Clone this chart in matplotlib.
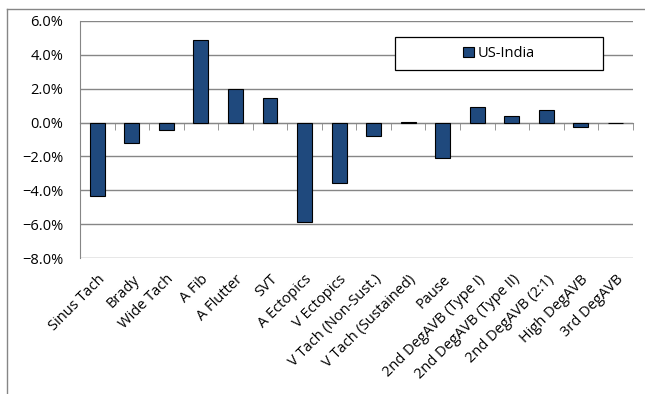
import numpy as np
import matplotlib.pyplot as plt
from matplotlib.patches import Rectangle
from matplotlib.ticker import PercentFormatter, FixedLocator

categories = ["Sinus Tach", "Brady", "Wide Tach", "A Fib", "A Flutter", "SVT",
              "A Ectopics", "V Ectopics", "V Tach (Non-Sust.)", "V Tach (Sustained)",
              "Pause", "2nd DegAVB (Type I)", "2nd DegAVB (Type II)",
              "2nd DegAVB (2:1)", "High DegAVB", "3rd DegAVB"]
us_india = [-4.35, -1.2, -0.45, 4.85, 1.95, 1.45, -5.9, -3.55, -0.78, 0.02,
            -2.08, 0.92, 0.4, 0.75, -0.25, -0.02]
yticks = [-8, -6, -4, -2, 0, 2, 4, 6]

plt.rcParams['font.family'] = ['Open Sans', 'DejaVu Sans']
grey = '#868686'
bar_color = '#1F497D'

fig = plt.figure(figsize=(6.45, 3.94), dpi=100)
ax = fig.add_axes([0.124, 0.345, 0.857, 0.602])

x = np.arange(len(categories))
ax.bar(x, us_india, width=0.43, color=bar_color, edgecolor='black',
       linewidth=0.8, zorder=3, label='US-India')

ax.set_xlim(-0.5, len(categories) - 0.5)
ax.set_ylim(-8, 6)
ax.set_yticks(yticks)
ax.yaxis.set_major_formatter(PercentFormatter(decimals=1))
ax.tick_params(axis='y', length=0, pad=12, labelsize=10.5)
ax.yaxis.grid(True, color=grey, linewidth=1)
ax.set_axisbelow(True)

for s in ['top', 'right']:
    ax.spines[s].set_visible(False)
ax.spines['left'].set_color(grey)
ax.spines['bottom'].set_position(('data', 0))
ax.spines['bottom'].set_color(grey)
ax.spines['bottom'].set_zorder(2)

# boundary tick marks on the zero line
ax.set_xticks([])
ax.xaxis.set_minor_locator(FixedLocator(np.arange(len(categories) + 1) - 0.5))
ax.tick_params(axis='x', which='minor', length=5, color=grey, direction='out')

# category labels below the plot area
sec = ax.secondary_xaxis(0.0)
sec.set_xticks(x)
sec.set_xticklabels(categories, rotation=45, ha='right', rotation_mode='anchor',
                    fontsize=10.5)
sec.tick_params(length=0, pad=10)
sec.spines['bottom'].set_visible(False)

# legend box
ax.add_patch(Rectangle((0.57, 0.793), 0.376, 0.139, transform=ax.transAxes,
                       facecolor='white', edgecolor='black', linewidth=0.9,
                       zorder=4, clip_on=False))
leg = ax.legend(loc='center', bbox_to_anchor=(0.758, 0.862), frameon=False,
                fontsize=10.5, handlelength=0.75, handleheight=0.75,
                handletextpad=0.3)
leg.set_zorder(5)

# chart area border
fig.add_artist(plt.Line2D([0.011, 1.0], [0.977, 0.977], color=grey, linewidth=1,
                          transform=fig.transFigure))
fig.add_artist(plt.Line2D([0.011, 0.011], [0.0, 0.977], color=grey, linewidth=1,
                          transform=fig.transFigure))

fig.savefig('out.png', dpi=100)
